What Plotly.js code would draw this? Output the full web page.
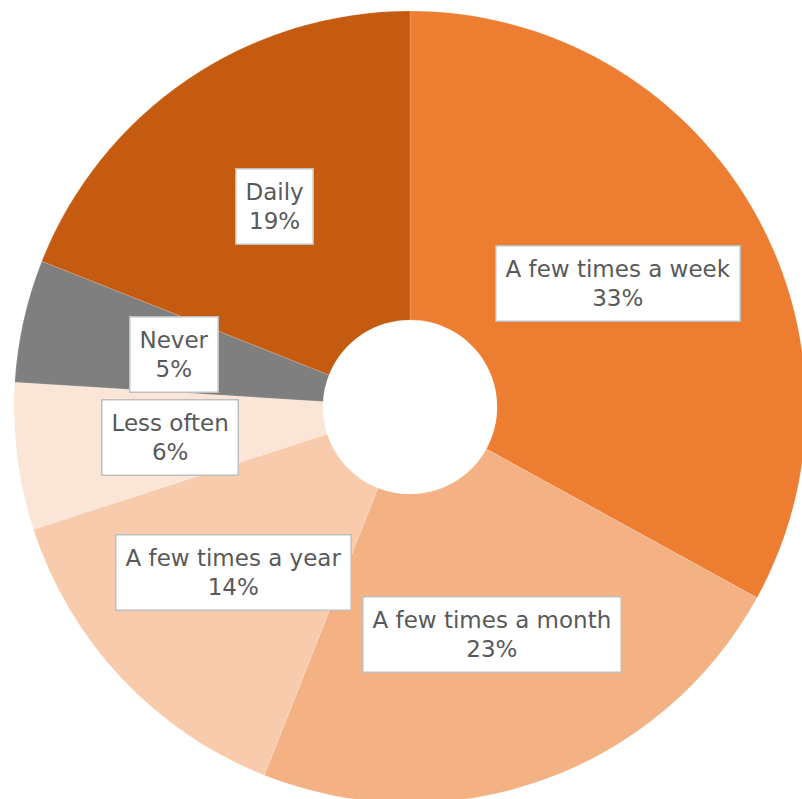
<!DOCTYPE html>
<html>
<head>
<meta charset="utf-8">
<script src="https://cdn.plot.ly/plotly-3.0.1.min.js"></script>
<style>
html,body{margin:0;padding:0;overflow:hidden;background:#fff;width:802px;height:799px;}
#chart{width:820px;height:814px;}
</style>
</head>
<body>
<div id="chart"></div>
<script>
// Data
var categories = ["A few times a week", "A few times a month", "A few times a year", "Less often", "Never", "Daily"];
var values = [33, 23, 14, 6, 5, 19];
var colors = ["#ED7D31", "#F4B183", "#F8CBAD", "#FBE5D6", "#7F7F7F", "#C55A11"];

var W = 820, H = 814;
var cx = 410, cy = 407, R = 396;   // pixel centre and radius of the pie
var labelFrac = 0.611;

var total = values.reduce(function(a,b){return a+b;}, 0);
var annotations = [];
var cum = 0;
for (var i = 0; i < values.length; i++) {
  var mid = (cum + values[i] / 2) / total * 2 * Math.PI;
  cum += values[i];
  var px = cx + R * labelFrac * Math.sin(mid);
  var py = cy - R * labelFrac * Math.cos(mid);
  annotations.push({
    x: px / W, y: 1 - py / H, xref: "paper", yref: "paper",
    xanchor: "center", yanchor: "middle", showarrow: false,
    text: categories[i] + "<br>" + Math.round(values[i] / total * 100) + "%",
    font: {family: "DejaVu Sans, sans-serif", size: 23, color: "#595959"},
    bgcolor: "#FFFFFF", bordercolor: "#BFBFBF", borderwidth: 1.5, borderpad: 9
  });
}

var trace = {
  type: "pie",
  labels: categories,
  values: values,
  marker: {colors: colors, line: {color: "rgba(255,255,255,0.3)", width: 0.5}},
  hole: 0.22,
  sort: false,
  direction: "clockwise",
  rotation: 0,
  textinfo: "none",
  hoverinfo: "label+percent",
  domain: {x: [(cx - R) / W, (cx + R) / W], y: [(H - cy - R) / H, (H - cy + R) / H]}
};

var layout = {
  width: W, height: H,
  margin: {l: 0, r: 0, t: 0, b: 0},
  showlegend: false,
  paper_bgcolor: "#FFFFFF",
  annotations: annotations
};

Plotly.newPlot("chart", [trace], layout, {displayModeBar: false, staticPlot: true});
</script>
</body>
</html>
